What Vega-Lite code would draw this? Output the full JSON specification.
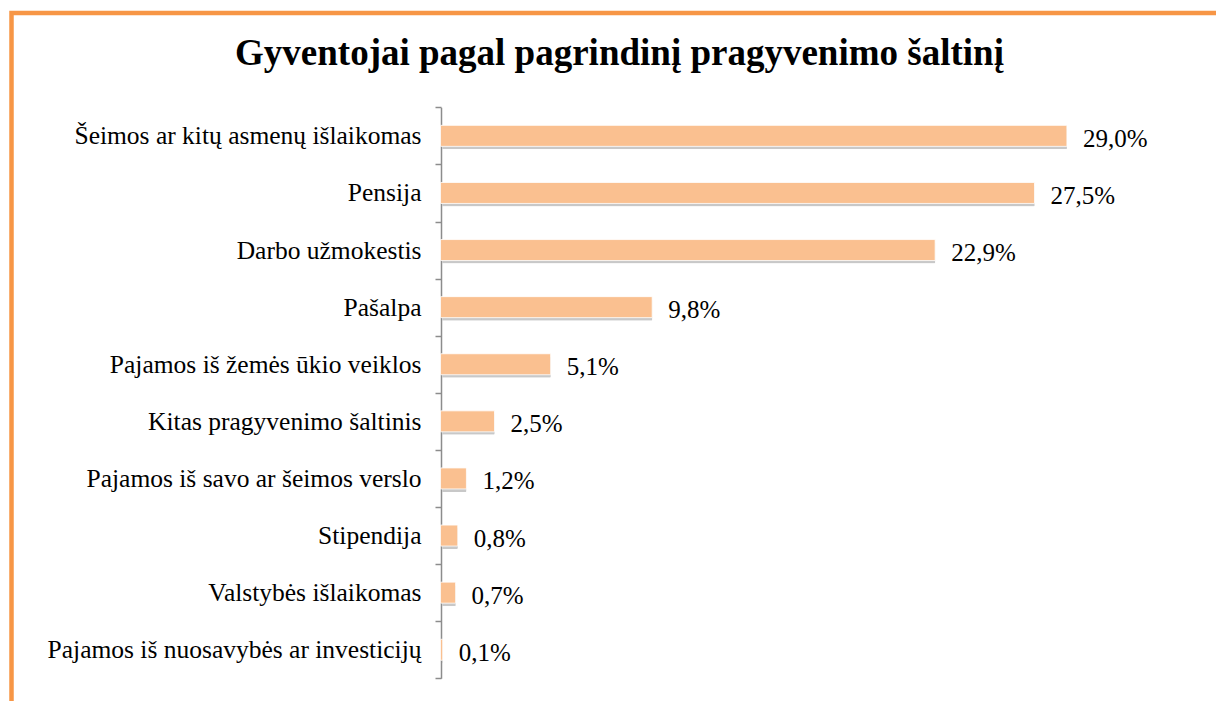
{
  "$schema": "https://vega.github.io/schema/vega-lite/v6.json",
  "autosize": "none",
  "width": 1216,
  "height": 701,
  "padding": {"left": 11.5, "top": 13, "right": 0, "bottom": 0},
  "background": "white",
  "config": {
    "view": {"stroke": "#F79646", "strokeWidth": 4.5, "fill": "white"}
  },
  "title": {
    "text": "Gyventojai pagal pagrindinį pragyvenimo šaltinį",
    "font": "Liberation Serif",
    "fontSize": 37,
    "fontWeight": "bold",
    "color": "black",
    "anchor": "middle",
    "frame": "group",
    "offset": -72
  },
  "data": {
    "values": [
      {"cat": "Šeimos ar kitų asmenų išlaikomas", "v": 29.0, "lbl": "29,0%"},
      {"cat": "Pensija", "v": 27.5, "lbl": "27,5%"},
      {"cat": "Darbo užmokestis", "v": 22.9, "lbl": "22,9%"},
      {"cat": "Pašalpa", "v": 9.8, "lbl": "9,8%"},
      {"cat": "Pajamos iš žemės ūkio veiklos", "v": 5.1, "lbl": "5,1%"},
      {"cat": "Kitas pragyvenimo šaltinis", "v": 2.5, "lbl": "2,5%"},
      {"cat": "Pajamos iš savo ar šeimos verslo", "v": 1.2, "lbl": "1,2%"},
      {"cat": "Stipendija", "v": 0.8, "lbl": "0,8%"},
      {"cat": "Valstybės išlaikomas", "v": 0.7, "lbl": "0,7%"},
      {"cat": "Pajamos iš nuosavybės ar investicijų", "v": 0.1, "lbl": "0,1%"}
    ]
  },
  "encoding": {
    "y": {
      "field": "cat",
      "type": "nominal",
      "sort": null,
      "scale": {"range": [94.3, 665.3], "paddingInner": 0, "paddingOuter": 0},
      "axis": {
        "title": null,
        "offset": -429.5,
        "tickBand": "extent",
        "domainColor": "#8C8C8C",
        "domainWidth": 1.5,
        "tickColor": "#8C8C8C",
        "tickWidth": 1.5,
        "tickSize": 6,
        "labelFont": "Liberation Serif",
        "labelFontSize": 25.5,
        "labelColor": "black",
        "labelPadding": 14,
        "labelLimit": 0
      }
    },
    "x": {
      "field": "v",
      "type": "quantitative",
      "scale": {"domain": [-19.861, 36.435], "nice": false, "zero": false},
      "axis": null
    }
  },
  "layer": [
    {
      "mark": {"type": "bar", "size": 21, "color": "#9a9a9a", "opacity": 0.55, "xOffset": 2, "yOffset": 3, "cornerRadius": 1}
    },
    {
      "mark": {"type": "bar", "size": 21, "color": "#FAC090", "stroke": "white", "strokeWidth": 0.8}
    },
    {
      "mark": {"type": "text", "align": "left", "baseline": "middle", "dx": 16, "dy": 3, "font": "Liberation Serif", "fontSize": 25, "color": "black"},
      "encoding": {"text": {"field": "lbl"}}
    }
  ]
}
